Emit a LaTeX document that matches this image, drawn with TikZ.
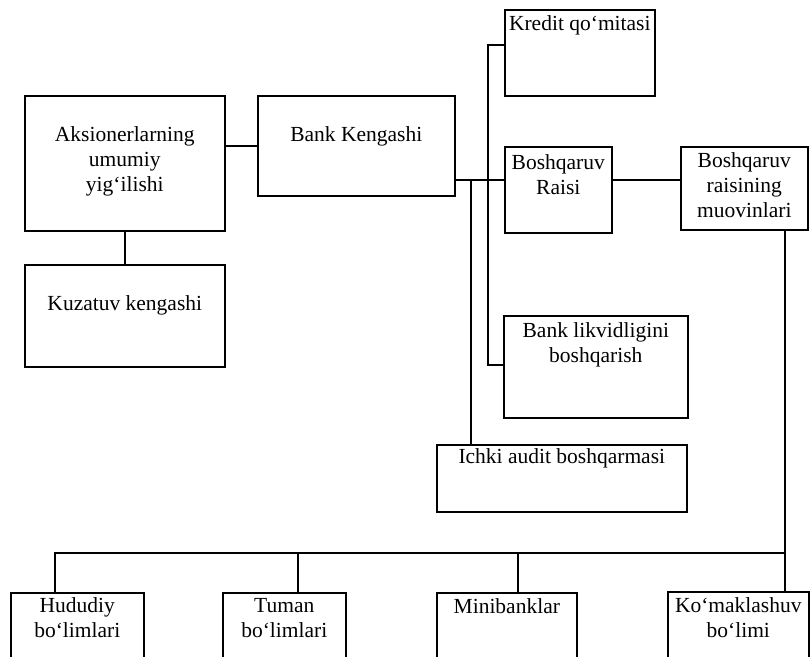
\documentclass[tikz,border=0pt]{standalone}
\usepackage{fontspec}
\setmainfont{Liberation Serif}
\begin{document}
\begin{tikzpicture}[x=1pt,y=-1pt,
  box/.style={draw, line width=1.6pt, rectangle, inner sep=0pt, anchor=north west},
  txt/.style={inner sep=0pt, align=center, anchor=base,
    font=\fontsize{21.5pt}{25pt}\selectfont},
  link/.style={line width=1.6pt}]
\useasboundingbox (0,0) rectangle (811,656);
\fill[white] (0,0) rectangle (811,656);
\clip (0,0) rectangle (811,656);

% boxes
\node[box, minimum width=200pt, minimum height=135pt] (aks)   at (24,95)  {};
\node[box, minimum width=200pt, minimum height=102pt] (kuz)   at (24,264) {};
\node[box, minimum width=197pt, minimum height=100pt] (bank)  at (257,95) {};
\node[box, minimum width=150pt, minimum height=86pt]  (kred)  at (504,9)  {};
\node[box, minimum width=107pt, minimum height=86pt]  (raisi) at (504,146) {};
\node[box, minimum width=127pt, minimum height=83pt]  (muov)  at (680,146) {};
\node[box, minimum width=184pt, minimum height=102pt] (likv)  at (503,315) {};
\node[box, minimum width=250pt, minimum height=67pt]  (ichki) at (436,444) {};
\node[box, minimum width=133pt, minimum height=100pt] (hud)   at (10,592) {};
\node[box, minimum width=123pt, minimum height=100pt] (tum)   at (222,592) {};
\node[box, minimum width=140pt, minimum height=100pt] (mini)  at (436,592) {};
\node[box, minimum width=141pt, minimum height=100pt] (kom)   at (667,591) {};

% labels (anchored at the baseline of their last line)
\path (aks.north)   ++(0,96) node[txt] (taks)   {Aksionerlarning\\umumiy\\yig‘ilishi};
\path (kuz.north)   ++(0,46) node[txt] (tkuz)   {Kuzatuv kengashi};
\path (bank.north)  ++(0,46) node[txt] (tbank)  {Bank Kengashi};
\path (kred.north)  ++(0,21) node[txt] (tkred)  {Kredit qo‘mitasi};
\path (raisi.north) ++(0,48) node[txt] (traisi) {Boshqaruv\\Raisi};
\path (muov.north)  ++(0,71) node[txt] (tmuov)  {Boshqaruv\\raisining\\muovinlari};
\path (likv.north)  ++(0,47) node[txt] (tlikv)  {Bank likvidligini\\boshqarish};
\path (ichki.north) ++(0,19) node[txt] (tichki) {Ichki audit boshqarmasi};
\path (hud.north)   ++(0,45) node[txt] (thud)   {Hududiy\\bo‘limlari};
\path (tum.north)   ++(0,45) node[txt] (ttum)   {Tuman\\bo‘limlari};
\path (mini.north)  ++(0,21) node[txt] (tmini)  {Minibanklar};
\path (kom.north)   ++(0,46) node[txt] (tkom)   {Ko‘maklashuv\\bo‘limi};

% helper levels for the connectors
\coordinate (yA) at (0,146);
\coordinate (yB) at (0,180);
\coordinate (yK) at (0,45);
\coordinate (yL) at (0,365);
\coordinate (yH) at (0,553);
\coordinate (xV) at (488,0);
\coordinate (xI) at (471,0);
\coordinate (xR) at (785,0);
\coordinate (xH) at (55,0);
\coordinate (xT) at (298,0);
\coordinate (xM) at (518,0);

% connectors
\draw[link] (aks.east|-yA) -- (bank.west|-yA);
\draw[link] (aks.south) -- (kuz.north);
\draw[link] (bank.east|-yB) -- (raisi.west|-yB);
\draw[link] (kred.west|-yK) -- (xV|-yK) -- (xV|-yL) -- (likv.west|-yL);
\draw[link] (xI|-yB) -- (xI|-ichki.north);
\draw[link] (raisi.east|-yB) -- (muov.west|-yB);
\draw[link] (xR|-muov.south) -- (xR|-kom.north);
\draw[link] (xH|-hud.north) -- (xH|-yH) -- (xR|-yH);
\draw[link] (xT|-tum.north) -- (xT|-yH);
\draw[link] (xM|-mini.north) -- (xM|-yH);
\end{tikzpicture}
\end{document}
